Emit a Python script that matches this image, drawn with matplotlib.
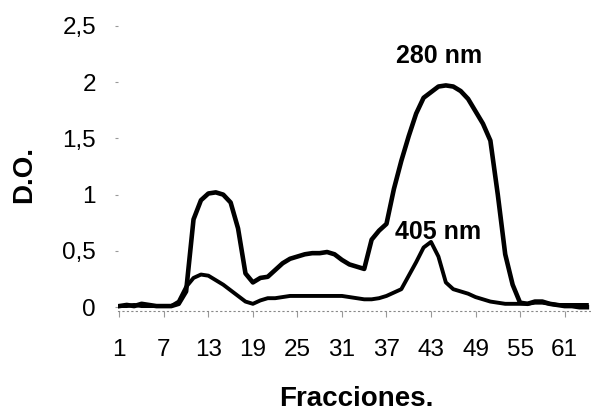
import numpy as np
import matplotlib.pyplot as plt

plt.rcParams['font.family'] = ['Liberation Sans', 'DejaVu Sans']

# fracciones 1..64
fracciones = list(range(1, 65))

# absorbancia a 280 nm
do_280 = [0.01, 0.02, 0.01, 0.03, 0.02, 0.01, 0.01, 0.01, 0.03, 0.14,
          0.78, 0.95, 1.01, 1.02, 1.00, 0.93, 0.70, 0.30, 0.22, 0.26,
          0.27, 0.33, 0.39, 0.43, 0.45, 0.47, 0.48, 0.48, 0.49, 0.47,
          0.42, 0.38, 0.36, 0.34, 0.60, 0.68, 0.74, 1.05, 1.30, 1.52,
          1.72, 1.86, 1.91, 1.96, 1.97, 1.96, 1.92, 1.85, 1.74, 1.63,
          1.48, 1.00, 0.47, 0.20, 0.04, 0.03, 0.05, 0.05, 0.03, 0.02,
          0.01, 0.01, 0.00, 0.00]

# absorbancia a 405 nm
do_405 = [0.01, 0.01, 0.02, 0.01, 0.01, 0.01, 0.01, 0.01, 0.05, 0.18,
          0.26, 0.29, 0.28, 0.24, 0.20, 0.15, 0.10, 0.05, 0.03, 0.06,
          0.08, 0.08, 0.09, 0.10, 0.10, 0.10, 0.10, 0.10, 0.10, 0.10,
          0.10, 0.09, 0.08, 0.07, 0.07, 0.08, 0.10, 0.13, 0.16, 0.28,
          0.40, 0.53, 0.58, 0.45, 0.22, 0.16, 0.14, 0.12, 0.09, 0.07,
          0.05, 0.04, 0.03, 0.03, 0.03, 0.03, 0.04, 0.04, 0.03, 0.02,
          0.02, 0.02, 0.02, 0.02]

xticks = list(range(1, 62, 6))
yticks = [0, 0.5, 1, 1.5, 2, 2.5]
ytick_labels = ['0', '0,5', '1', '1,5', '2', '2,5']

fig = plt.figure(figsize=(5.91, 4.15), dpi=100)
ax = fig.add_axes([0.200, 0.250, 0.798, 0.714])

ax.plot(fracciones, do_280, color='black', lw=3.3, solid_joinstyle='round')
ax.plot(fracciones, do_405, color='black', lw=2.8, solid_joinstyle='round')

# etiquetas de las curvas
ax.text(44.1, 2.23, '280 nm', fontsize=18, fontweight='bold', ha='center', va='center')
ax.text(43.9, 0.67, '405 nm', fontsize=18, fontweight='bold', ha='center', va='center')

ax.set_xlim(0.85, 64.4)
ax.set_ylim(-0.036, 2.596)

ax.set_xticks(xticks)
ax.set_xticklabels([str(t) for t in xticks])
ax.set_yticks(yticks)
ax.set_yticklabels(ytick_labels)

for s in ['top', 'right', 'left']:
    ax.spines[s].set_visible(False)
ax.spines['bottom'].set_linestyle((0, (1, 3)))
ax.spines['bottom'].set_color('#888888')
ax.spines['bottom'].set_linewidth(0.8)

ax.tick_params(axis='y', length=2, width=0.8, color='#999999', pad=14, labelsize=17.5)
ax.tick_params(axis='x', length=4, width=0.8, color='#999999', pad=16, labelsize=17.5)

ax.set_ylabel('D.O.', fontsize=20, fontweight='bold', va='center')
ax.yaxis.set_label_coords(-0.199, 0.46)
ax.set_xlabel('Fracciones.', fontsize=20, fontweight='bold', va='center')
ax.xaxis.set_label_coords(0.504, -0.297)

fig.savefig('out.png', dpi=100)
